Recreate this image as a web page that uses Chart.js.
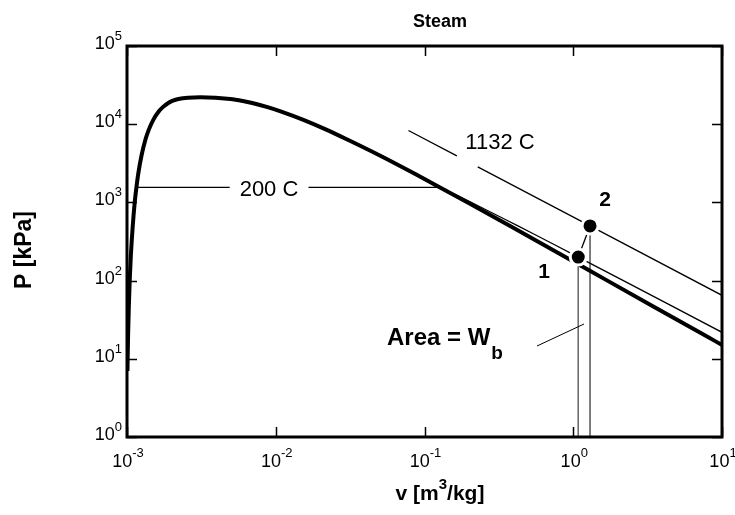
<!DOCTYPE html>
<html>
<head>
<meta charset="utf-8">
<script src="https://cdn.jsdelivr.net/npm/chart.js@4.4.0/dist/chart.umd.min.js"></script>
<style>
  html, body { margin: 0; padding: 0; background: #fff; }
  #wrap { width: 735px; height: 515px; }
</style>
</head>
<body>
<div id="wrap"><canvas id="pvChart"></canvas></div>
<script>
// saturation dome: liquid side up to the critical point, then vapour side (v m3/kg, P kPa)
const satV = [0.001007, 0.001012, 0.001017, 0.001029, 0.001043, 0.001060, 0.001091, 0.001127, 0.001157,
              0.001190, 0.001252, 0.001332, 0.001404, 0.001499, 0.001638, 0.001741, 0.001895, 0.002015,
              0.002217, 0.003106, 0.004953, 0.006009, 0.006950, 0.008806, 0.010779, 0.015488, 0.021659,
              0.030008, 0.050087, 0.086094, 0.12721, 0.19384, 0.39248, 0.89133, 1.6720, 3.4053, 7.6670, 10.02];
const satP = [6.99, 12.35, 19.95, 47.42, 101.4, 198.7, 476.2, 1002.8, 1554.9,
              2319.6, 3976, 6416, 8588, 11284, 14601, 16529, 18666, 19822,
              21044, 22064, 21044, 19822, 18666, 16529, 14601, 11284, 8588,
              6416, 3976, 2319.6, 1554.9, 1002.8, 476.2, 198.7, 101.4, 47.42, 19.95, 15.0];

// 200 C isotherm (null = gap for the label)
const iso200V = [0.001157, 0.0049, 0.009, 0.0166, 0.12721, 0.14302, 0.16934, 0.20602, 0.26088, 0.35212,
                 0.42503, 0.53434, 0.71643, 1.08049, 2.17261, 4.35610, 10.0];
const iso200P = [1554.9, 1554.9, null, 1554.9, 1554.9, 1400, 1200, 1000, 800, 600,
                 500, 400, 300, 200, 100, 50, 21.8];

// 1132 C isotherm
const iso1132V = [0.078, 0.165, 0.2, 0.228, 1.297, 10.0];
const iso1132P = [8314, 3930, null, 2844, 500, 64.85];

// states 1 and 2
const stateNames = ['1', '2'];
const stateV = [1.0805, 1.297];
const stateP = [200, 500];

// decade ticks
const xTicks = [1e-3, 1e-2, 1e-1, 1e0, 1e1];
const xExp = ['-3', '-2', '-1', '0', '1'];
const yTicks = [1e0, 1e1, 1e2, 1e3, 1e4, 1e5];
const yExp = ['0', '1', '2', '3', '4', '5'];

const FONT = '"Liberation Sans", Arial, Helvetica, sans-serif';

function pts(xs, ys) {
    return xs.map((x, i) => ({ x: x, y: ys[i] }));
}

const dropLines = stateV.map((v, i) => ({
    data: [{ x: v, y: stateP[i] }, { x: v, y: 1 }],
    borderColor: '#6b6b6b', borderWidth: 1, pointRadius: 0
}));

const frameAndText = {
    id: 'frameAndText',
    afterDraw(chart) {
        const ctx = chart.ctx;
        const a = chart.chartArea;
        const sx = chart.scales.x, sy = chart.scales.y;
        ctx.save();

        // ticks, inward on all four sides
        ctx.strokeStyle = '#000';
        ctx.lineWidth = 1.5;
        ctx.beginPath();
        xTicks.forEach(t => {
            const px = Math.round(sx.getPixelForValue(t)) + 0.5;
            ctx.moveTo(px, a.bottom); ctx.lineTo(px, a.bottom - 10);
            ctx.moveTo(px, a.top); ctx.lineTo(px, a.top + 10);
        });
        yTicks.forEach(t => {
            const py = Math.round(sy.getPixelForValue(t)) + 0.5;
            ctx.moveTo(a.left, py); ctx.lineTo(a.left + 10, py);
            ctx.moveTo(a.right, py); ctx.lineTo(a.right - 10, py);
        });
        ctx.stroke();

        // frame
        ctx.lineWidth = 3;
        ctx.strokeRect(a.left, a.top, a.right - a.left, a.bottom - a.top);

        ctx.fillStyle = '#000';
        ctx.textBaseline = 'alphabetic';

        // x tick labels
        xTicks.forEach((t, i) => {
            const px = sx.getPixelForValue(t);
            ctx.font = '18px ' + FONT;
            const w1 = ctx.measureText('10').width;
            ctx.font = '13px ' + FONT;
            const w2 = ctx.measureText(xExp[i]).width;
            const x0 = px - (w1 + w2) / 2 + 1;
            ctx.textAlign = 'left';
            ctx.font = '18px ' + FONT;
            ctx.fillText('10', x0, a.bottom + 30);
            ctx.font = '13px ' + FONT;
            ctx.fillText(xExp[i], x0 + w1, a.bottom + 20);
        });

        // y tick labels
        yTicks.forEach((t, i) => {
            const py = sy.getPixelForValue(t);
            ctx.font = '13px ' + FONT;
            const w2 = ctx.measureText(yExp[i]).width;
            const xr = a.left - 5;
            ctx.textAlign = 'right';
            ctx.fillText(yExp[i], xr, py - 6);
            ctx.font = '18px ' + FONT;
            ctx.fillText('10', xr - w2, py + 3);
        });

        // title
        ctx.textAlign = 'center';
        ctx.font = 'bold 18px ' + FONT;
        ctx.fillText('Steam', 440, 27);

        // x axis title with superscript
        ctx.textAlign = 'left';
        const big = 'bold 21px ' + FONT, sup = 'bold 15px ' + FONT;
        ctx.font = big;
        const p1 = 'v [m', p3 = '/kg]';
        const w1 = ctx.measureText(p1).width, w3 = ctx.measureText(p3).width;
        ctx.font = sup;
        const w2 = ctx.measureText('3').width;
        let x0 = 440 - (w1 + w2 + w3) / 2;
        ctx.font = big; ctx.fillText(p1, x0, 500);
        ctx.font = sup; ctx.fillText('3', x0 + w1, 489);
        ctx.font = big; ctx.fillText(p3, x0 + w1 + w2, 500);

        // y axis title
        ctx.save();
        ctx.translate(31, 250);
        ctx.rotate(-Math.PI / 2);
        ctx.textAlign = 'center';
        ctx.font = 'bold 23px ' + FONT;
        ctx.fillText('P [kPa]', 0, 0);
        ctx.restore();

        // isotherm labels
        ctx.textAlign = 'center';
        ctx.textBaseline = 'middle';
        ctx.font = '22px ' + FONT;
        ctx.fillText('200 C', 269, 190);
        ctx.fillText('1132 C', 500, 143);

        // state labels
        ctx.font = 'bold 21px ' + FONT;
        ctx.fillText(stateNames[0], 544, 272);
        ctx.fillText(stateNames[1], 605, 200);

        // boundary work label
        ctx.textAlign = 'left';
        ctx.textBaseline = 'alphabetic';
        ctx.font = 'bold 24px ' + FONT;
        ctx.fillText('Area = W', 387, 345);
        const wa = ctx.measureText('Area = W').width;
        ctx.font = 'bold 19px ' + FONT;
        ctx.fillText('b', 387 + wa + 1, 359);

        // pointer
        ctx.lineWidth = 1;
        ctx.strokeStyle = '#000';
        ctx.beginPath();
        ctx.moveTo(537, 346);
        ctx.lineTo(584, 324);
        ctx.stroke();

        ctx.restore();
    }
};

new Chart(document.getElementById('pvChart'), {
    type: 'line',
    data: {
        datasets: [
            {
                data: pts(stateV, stateP),
                showLine: false,
                pointRadius: 8,
                pointBackgroundColor: '#000',
                pointBorderColor: '#fff',
                pointBorderWidth: 3
            },
            {
                data: pts(satV, satP),
                borderColor: '#000', borderWidth: 4, pointRadius: 0,
                cubicInterpolationMode: 'monotone'
            },
            {
                data: pts(iso200V, iso200P),
                borderColor: '#000', borderWidth: 1.3, pointRadius: 0, spanGaps: false
            },
            {
                data: pts(iso1132V, iso1132P),
                borderColor: '#000', borderWidth: 1.3, pointRadius: 0, spanGaps: false
            },
            {
                data: pts(stateV, stateP),
                borderColor: '#000', borderWidth: 1.3, pointRadius: 0
            },
            ...dropLines
        ]
    },
    options: {
        responsive: true,
        maintainAspectRatio: false,
        animation: false,
        events: [],
        layout: { padding: { left: 127, right: 13, top: 46, bottom: 78 } },
        scales: {
            x: { type: 'logarithmic', min: 1e-3, max: 10, display: false },
            y: { type: 'logarithmic', min: 1, max: 1e5, display: false }
        },
        plugins: {
            legend: { display: false },
            tooltip: { enabled: false }
        }
    },
    plugins: [frameAndText]
});
</script>
</body>
</html>
